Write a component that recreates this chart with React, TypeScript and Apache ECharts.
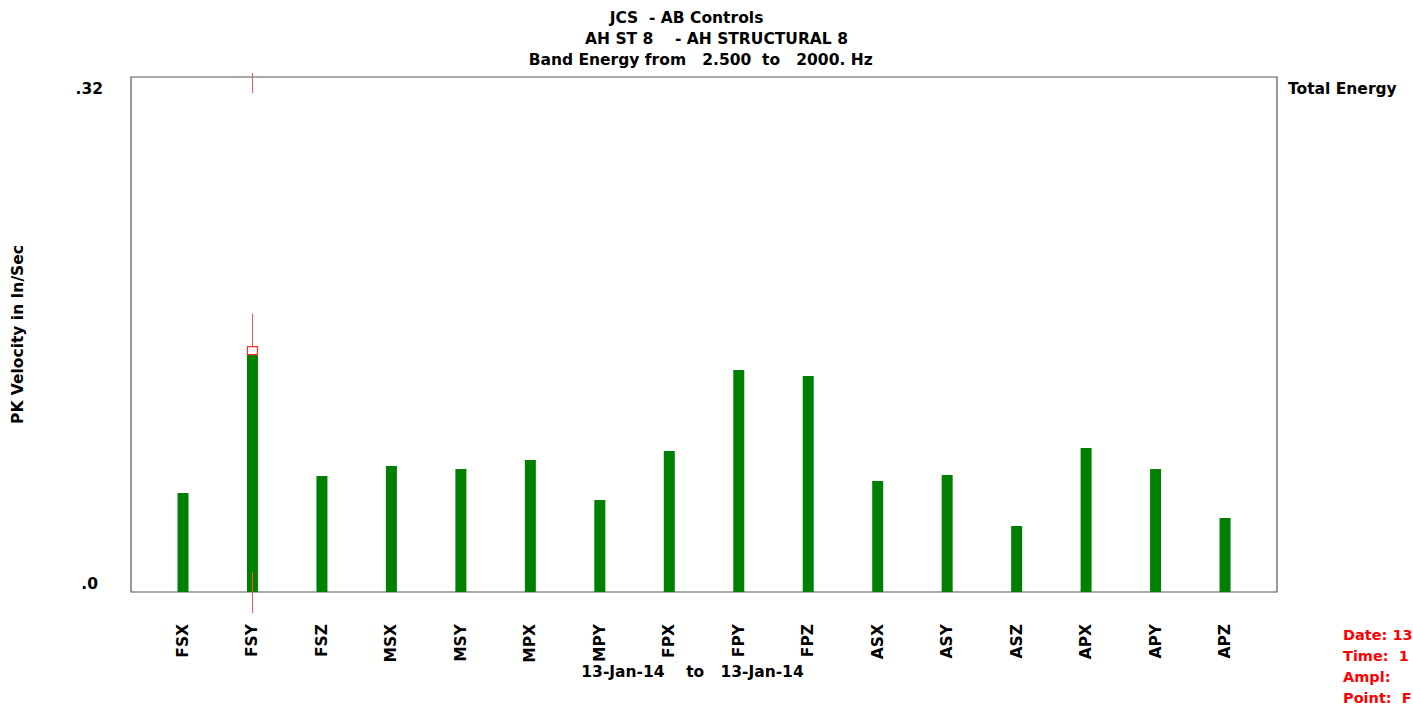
import React, { useEffect, useRef } from "react";
import * as echarts from "echarts";

const categories = ["FSX", "FSY", "FSZ", "MSX", "MSY", "MPX", "MPY", "FPX", "FPY", "FPZ", "ASX", "ASY", "ASZ", "APX", "APY", "APZ"];
const totalEnergy = [0.0615, 0.150, 0.0721, 0.0783, 0.0764, 0.0820, 0.0572, 0.0876, 0.1379, 0.1342, 0.0690, 0.0727, 0.0410, 0.0895, 0.0764, 0.0460];
const yMin = 0;
const yMax = 0.32;
const yTickLabels: Record<string, string> = { "0": ".0", "0.32": ".32" };
const titleLines = ["JCS  - AB Controls", "AH ST 8    - AH STRUCTURAL 8", "Band Energy from   2.500  to   2000. Hz"];
const dateRange = "13-Jan-14    to   13-Jan-14";
const seriesLabel = "Total Energy";
const yAxisTitle = "PK Velocity in In/Sec";
const cursorIndex = 1;
const cursorInfo = ["Date: 13", "Time:  1", "Ampl:", "Point:  F"];

const FONT = "'DejaVu Sans', Arial, sans-serif";
const FS = 15.5;

export default function App() {
  const ref = useRef<HTMLDivElement>(null);
  useEffect(() => {
    if (!ref.current) return;
    const chart = echarts.init(ref.current, undefined, { renderer: "svg" });
    const gridLeft = 131, gridTop = 77, gridW = 1146, gridH = 515;
    const band = 69.47;
    const barLeft = 183 - band / 2;
    const txt = { fontSize: FS, fontWeight: "bold", color: "#000", fontFamily: FONT };
    const baseOption: any = {
      animation: false,
      backgroundColor: "#ffffff",
      textStyle: { fontFamily: FONT },
      grid: [
        { left: barLeft, top: gridTop, width: band * categories.length, height: gridH, show: false, containLabel: false, outerBoundsMode: "none" },
        { left: gridLeft, top: gridTop, width: gridW, height: gridH, show: true, borderColor: "#555", borderWidth: 1.2, backgroundColor: "transparent", containLabel: false, outerBoundsMode: "none" },
      ],
      xAxis: [
        {
          type: "category",
          gridIndex: 0,
          data: categories,
          boundaryGap: true,
          axisLine: { show: false },
          axisTick: { show: false },
          axisLabel: { rotate: 90, margin: 32, ...txt },
          splitLine: { show: false },
        },
        { type: "value", gridIndex: 1, show: false, min: 0, max: 1 },
      ],
      yAxis: [
        { type: "value", gridIndex: 0, min: yMin, max: yMax, show: false },
        {
          type: "value",
          gridIndex: 1,
          min: yMin,
          max: yMax,
          interval: yMax,
          axisLine: { show: false },
          axisTick: { show: false },
          splitLine: { show: false },
          name: yAxisTitle,
          nameLocation: "middle",
          nameRotate: 90,
          nameGap: 105,
          nameTextStyle: { ...txt },
          axisLabel: {
            margin: 28,
            formatter: (v: number) => {
              const key = String(Math.round(v * 100) / 100);
              const t = yTickLabels[key] ?? "";
              return v === 0 ? `{lo|${t}}` : `{hi|${t}}`;
            },
            rich: {
              hi: { ...txt, padding: [24, 0, 0, 0] },
              lo: { ...txt, padding: [0, 5, 16, 0] },
            },
          },
        },
      ],
      series: [
        {
          type: "bar",
          name: seriesLabel,
          xAxisIndex: 0,
          yAxisIndex: 0,
          data: totalEnergy,
          barWidth: 11,
          itemStyle: { color: "#008000" },
          silent: true,
        },
      ],
      graphic: [],
    };
    chart.setOption(baseOption);

    const [cx, cy] = chart.convertToPixel({ seriesIndex: 0 }, [cursorIndex, totalEnergy[cursorIndex]]) as number[];
    const [, yTop] = chart.convertToPixel({ seriesIndex: 0 }, [cursorIndex, yMax]) as number[];
    const [, yBot] = chart.convertToPixel({ seriesIndex: 0 }, [cursorIndex, yMin]) as number[];
    const red = "#ff3030";
    const lineStyle = { stroke: "#ff5050", lineWidth: 1 };
    const font = `bold ${FS}px ${FONT}`;
    const graphics: any[] = [
      ...titleLines.map((t, i) => ({
        type: "text",
        x: [686.5, 716.5, 700.7][i],
        y: 18 + i * 21,
        style: { text: t, fill: "#000", font, textAlign: "center", textVerticalAlign: "middle" },
      })),
      { type: "text", x: 1288, y: 89, style: { text: seriesLabel, fill: "#000", font, textAlign: "left", textVerticalAlign: "middle" } },
      { type: "text", x: 692.5, y: 672, style: { text: dateRange, fill: "#000", font, textAlign: "center", textVerticalAlign: "middle" } },
      ...cursorInfo.map((t, i) => ({
        type: "text",
        x: 1343,
        y: 635 + i * 21,
        style: { text: t, fill: "#ff0000", font: `bold 14.5px ${FONT}`, textAlign: "left", textVerticalAlign: "middle" },
      })),
      { type: "line", shape: { x1: cx, y1: yTop - 4, x2: cx, y2: yTop + 16 }, style: lineStyle, z: 10 },
      { type: "line", shape: { x1: cx, y1: cy - 37, x2: cx, y2: cy - 4 }, style: lineStyle, z: 10 },
      { type: "line", shape: { x1: cx, y1: yBot - 20, x2: cx, y2: yBot + 21 }, style: lineStyle, z: 10 },
      { type: "rect", shape: { x: cx - 5, y: cy - 4, width: 10, height: 8 }, style: { fill: "#fff", stroke: red, lineWidth: 1.2 }, z: 11 },
    ];
    chart.setOption({ graphic: graphics });
    return () => chart.dispose();
  }, []);
  return <div ref={ref} style={{ position: "absolute", left: 0, top: 0, width: 1413, height: 708, overflow: "hidden" }} />;
}
